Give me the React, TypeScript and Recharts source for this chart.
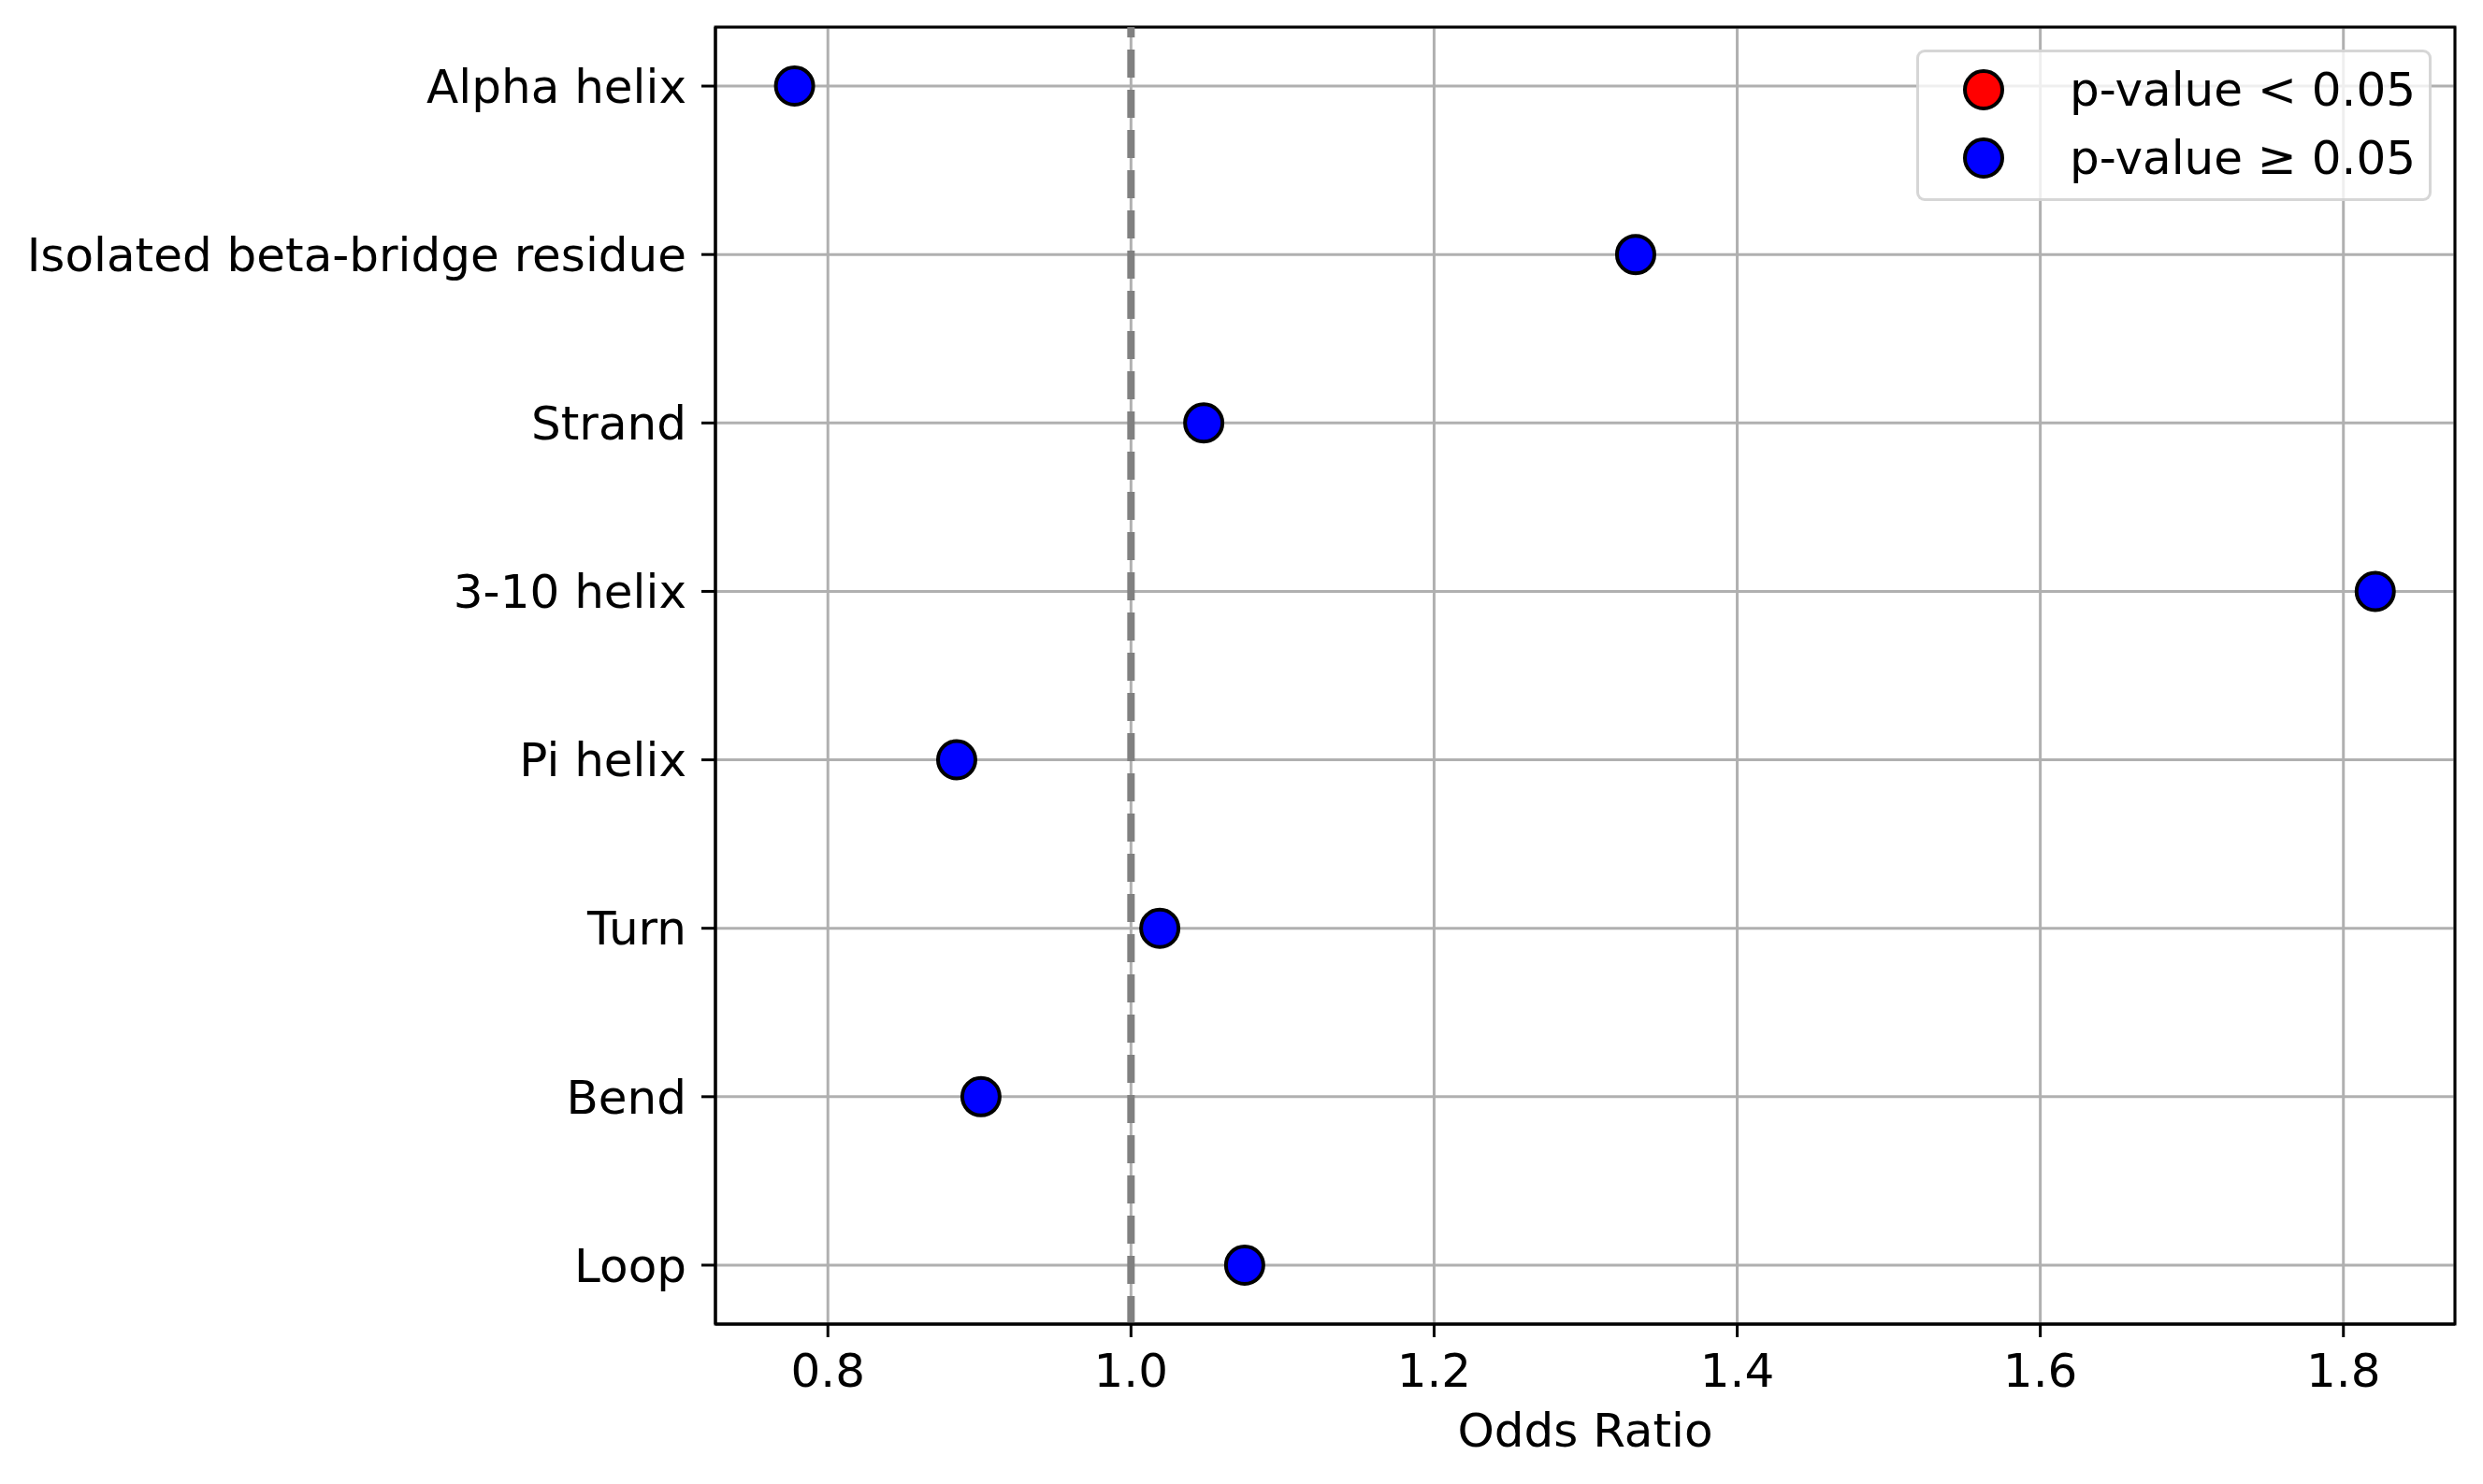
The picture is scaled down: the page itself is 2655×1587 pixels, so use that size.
import React from "react";
import {
  ScatterChart,
  Scatter,
  XAxis,
  YAxis,
  CartesianGrid,
  ReferenceLine,
  ReferenceArea,
  Legend,
  Label,
} from "recharts";

const categories = [
  "Alpha helix",
  "Isolated beta-bridge residue",
  "Strand",
  "3-10 helix",
  "Pi helix",
  "Turn",
  "Bend",
  "Loop",
];
const oddsRatios = [0.778, 1.333, 1.048, 1.821, 0.885, 1.019, 0.901, 1.075];
const significant = [false, false, false, false, false, false, false, false];
const xTicks = [0.8, 1.0, 1.2, 1.4, 1.6, 1.8];

const FONT = "DejaVu Sans, sans-serif";
const FS = 50;

const points = categories.map((name, i) => ({ name, x: oddsRatios[i], y: i, sig: significant[i] }));
const sigPoints = points.filter((p) => p.sig);
const nonSigPoints = points.filter((p) => !p.sig);

const xMin = 0.7258;
const xMax = 1.8736;
const yMin = -0.35;
const yMax = categories.length - 1 + 0.35;

const dot = (fill: string) => (props: any) => (
  <circle cx={props.cx} cy={props.cy} r={20} fill={fill} stroke="#000" strokeWidth={4} />
);

const LegendBox = ({ payload }: any) => (
  <div
    style={{
      width: 551,
      height: 162,
      boxSizing: "border-box",
      border: "3px solid rgba(204,204,204,0.8)",
      borderRadius: 9,
      background: "rgba(255,255,255,0.8)",
      position: "relative",
      fontFamily: FONT,
      fontSize: 50,
      color: "#000",
    }}
  >
    {(payload || []).map((item: any, i: number) => (
      <div key={item.value} style={{ position: "absolute", left: 0, top: 40 + i * 73 - 30, height: 60, width: "100%" }}>
        <svg width={60} height={60} style={{ position: "absolute", left: 69 - 30 }}>
          <circle cx={30} cy={30} r={20} fill={item.color} stroke="#000" strokeWidth={4} />
        </svg>
        <span style={{ position: "absolute", left: 161, top: 30, transform: "translateY(-50%)", whiteSpace: "nowrap", lineHeight: 1 }}>
          {item.value}
        </span>
      </div>
    ))}
  </div>
);

export default function App() {
  return (
    <div style={{ position: "absolute", left: 0, top: 0, background: "#fff" }}>
      <ScatterChart width={2655} height={1587} margin={{ top: 29, right: 30, bottom: 0, left: 0 }}>
        <XAxis
          type="number"
          dataKey="x"
          domain={[xMin, xMax]}
          allowDataOverflow
          ticks={xTicks}
          interval={0}
          tickFormatter={(v: number) => v.toFixed(1)}
          height={171}
          tickSize={14}
          tickMargin={17}
          tick={{ fill: "#000", fontSize: FS, fontFamily: FONT }}
          tickLine={{ stroke: "#000", strokeWidth: 3 }}
          axisLine={{ stroke: "#000", strokeWidth: 3 }}
        >
          <Label
            value="Odds Ratio"
            position="insideBottom"
            offset={40}
            style={{ fill: "#000", fontSize: FS, fontFamily: FONT }}
          />
        </XAxis>
        <YAxis
          type="number"
          dataKey="y"
          domain={[yMin, yMax]}
          allowDataOverflow
          reversed
          ticks={categories.map((_, i) => i)}
          interval={0}
          tickFormatter={(v: number) => categories[v] ?? ""}
          width={765}
          tickSize={15}
          tickMargin={16}
          tick={{ fill: "#000", fontSize: FS, fontFamily: FONT }}
          tickLine={{ stroke: "#000", strokeWidth: 3 }}
          axisLine={{ stroke: "#000", strokeWidth: 3 }}
        />
        <Scatter name="p-value < 0.05" data={sigPoints} fill="#ff0000" shape={dot("#ff0000")} isAnimationActive={false} />
        <Scatter name="p-value ≥ 0.05" data={nonSigPoints} fill="#0000ff" shape={dot("#0000ff")} isAnimationActive={false} />
        <CartesianGrid stroke="#b0b0b0" strokeWidth={3} />
        <ReferenceLine x={1} stroke="#808080" strokeWidth={8} strokeDasharray="30 13" />
        <ReferenceArea x1={xMin} x2={xMax} y1={yMin} y2={yMax} fill="none" fillOpacity={0} stroke="#000" strokeWidth={3} />
        <Legend
          layout="vertical"
          align="center"
          verticalAlign="middle"
          content={LegendBox}
          wrapperStyle={{ position: "absolute", left: 2049, top: 53, width: 551, height: 162 }}
        />
      </ScatterChart>
    </div>
  );
}
